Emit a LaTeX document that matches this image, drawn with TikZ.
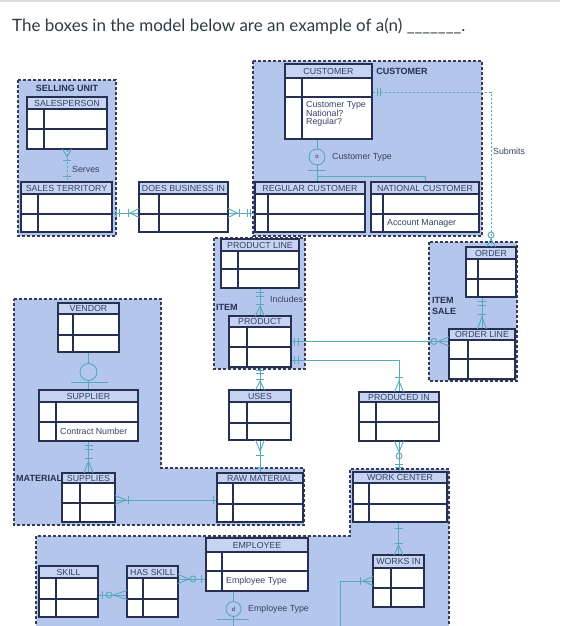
\documentclass[tikz,border=0pt]{standalone}
\usepackage{fontspec}
\setmainfont{Liberation Sans}
\newfontfamily\titlefont{Lato}
\usetikzlibrary{fit}
\definecolor{regblue}{RGB}{180,198,236}
\definecolor{hdrblue}{RGB}{198,212,242}
\definecolor{entline}{RGB}{38,48,82}
\definecolor{hdrtxt}{RGB}{55,65,100}
\definecolor{conncol}{RGB}{88,168,190}
\definecolor{regline}{RGB}{55,60,80}
\definecolor{titlecol}{RGB}{45,59,69}
\tikzset{
 region/.style={draw=regline, fill=regblue, line width=1.2pt, dash pattern=on 3pt off 2pt},
 entbox/.style={draw=entline, fill=white, line width=1.1pt, inner sep=0pt},
 hdrfill/.style={draw=entline, fill=hdrblue, line width=1.1pt},
 entln/.style={draw=entline, line width=1.1pt},
 hdrtext/.style={font=\fontsize{8.8}{9}\selectfont, text=hdrtxt, inner sep=0pt},
 rowtext/.style={font=\fontsize{8.8}{9}\selectfont, text=hdrtxt, inner sep=0pt, anchor=west},
 lbl/.style={font=\fontsize{9}{9}\selectfont\bfseries, text=entline, inner sep=0pt},
 cn/.style={draw=conncol, line width=0.9pt},
 cnd/.style={cn, dash pattern=on 2.5pt off 1.5pt},
 subc/.style={circle, draw=conncol, line width=0.9pt, inner sep=0pt, font=\fontsize{6}{6}\selectfont, text=entline},
}
% entity: name, x1, y1, yheader, yrow, y2, x2, xcol, header
\newcommand{\ent}[9]{%
 \coordinate (#1-nw) at (#2,#3);
 \coordinate (#1-se) at (#7,#6);
 \node[entbox, fit=(#1-nw)(#1-se)] (#1) {};
 \path[hdrfill] (#2,#3) rectangle (#7,#4);
 \draw[entln] (#2,#5) -- (#7,#5) (#8,#4) -- (#8,#6);
 \node[hdrtext] (#1-h) at ({(#2+#7)/2},{(#3+#4)/2+0.3}) {#9};
}
\newcommand{\cfv}[3]{\draw[cn] (#1-4.5,#2) -- (#1,#3) -- (#1+4.5,#2);}
\newcommand{\cfh}[3]{\draw[cn] (#2,#1-4.5) -- (#3,#1) -- (#2,#1+4.5);}
\newcommand{\bv}[2]{\draw[cn] (#1-4,#2) -- (#1+4,#2);}
\newcommand{\bh}[2]{\draw[cn] (#1,#2-4) -- (#1,#2+4);}
\newcommand{\oc}[2]{\draw[cn] (#1,#2) circle (3pt);}
\begin{document}
\begin{tikzpicture}[x=1pt,y=-1pt]
\useasboundingbox (0,0) rectangle (560,626);
\fill[white] (0,0) rectangle (560,626);
\fill[black!14] (0,0) rectangle (560,2.5);
\node[anchor=base west, inner sep=0pt, font=\titlefont\fontsize{17}{20}\selectfont, text=titlecol] (title) at (12,32) {The boxes in the model below are an example of a(n) \_\_\_\_\_\_\_.};

% regions
\path[region] (18,80) rectangle (116,236);
\path[region] (253,61) rectangle (482,236);
\path[region] (214,238) rectangle (305,369);
\path[region] (429,242) rectangle (517,381);
\path[region] (14,299) -- (161,299) -- (161,468) -- (304,468) -- (304,525) -- (14,525) -- cycle;
\path[region] (36,634) -- (36,536) -- (350,536) -- (350,469) -- (449,469) -- (449,634) -- cycle;

% entities
\ent{sp}{27}{97}{109}{129}{149}{107}{44}{SALESPERSON}
\ent{st}{21}{182}{194}{214}{232}{112}{38}{SALES TERRITORY}
\ent{dbi}{139}{182}{194}{214}{232}{228}{159}{DOES BUSINESS IN}
\ent{rc}{255}{182}{194}{214}{232}{365}{268}{REGULAR CUSTOMER}
\ent{nc}{371}{182}{194}{214}{232}{479}{383}{NATIONAL CUSTOMER}
\ent{cu}{285}{64}{78}{97}{139}{372}{302}{CUSTOMER}
\ent{ord}{466}{247}{259}{279}{297}{516}{478}{ORDER}
\ent{ol}{449}{329}{340}{359}{379}{515}{468}{ORDER LINE}
\ent{pl}{221}{239}{251}{269}{288}{299}{238}{PRODUCT LINE}
\ent{pr}{229}{316}{327}{347}{367}{291}{247}{PRODUCT}
\ent{us}{229}{390}{402}{423}{440}{291}{247}{USES}
\ent{rm}{217}{473}{483}{504}{522}{303}{233}{RAW MATERIAL}
\ent{pi}{359}{392}{402}{422}{441}{439}{376}{PRODUCED IN}
\ent{wc}{353}{472}{483}{504}{522}{447}{369}{WORK CENTER}
\ent{wi}{373}{555}{568}{588}{607}{424}{391}{WORKS IN}
\ent{ven}{58}{303}{314}{335}{352}{119}{73}{VENDOR}
\ent{sup}{39}{390}{402}{422}{441}{138}{56}{SUPPLIER}
\ent{spl}{62}{473}{483}{503}{522}{115}{80}{SUPPLIES}
\ent{sk}{39}{566}{578}{599}{617}{98}{56}{SKILL}
\ent{hs}{127}{566}{578}{599}{617}{178}{143}{HAS SKILL}
\ent{em}{206}{538}{552}{571}{591}{308}{222}{EMPLOYEE}

% row texts
\node[rowtext] (cut1) at (306,105) {Customer Type};
\node[rowtext] (cut2) at (306,113.5) {National?};
\node[rowtext] (cut3) at (306,122) {Regular?};
\node[rowtext] (acm) at (387,223) {Account Manager};
\node[rowtext] (cnum) at (60,431) {Contract Number};
\node[rowtext] (emt) at (226,581) {Employee Type};

% subtype circles
\node[subc, minimum size=16pt] (ccirc) at (317,157) {o};
\node[subc, minimum size=17pt] (vcirc) at (88.5,372) {};
\node[subc, minimum size=15pt] (ecirc) at (233.5,609) {d};
\coordinate (cj) at (317,176);
\coordinate (efree) at (233.5,630);
\coordinate (emfree) at (340,630);

% connectors
\draw[cnd] (sp.south) -- (sp.south |- st.north);
\cfv{67}{149}{157}\bv{67}{160}\bv{67}{176}
\draw[cn] ([yshift=-6pt]st.east) -- ([yshift=-6pt]st.east -| dbi.west);
\bh{116}{213}\bh{119}{213}\bh{128}{213}\cfh{213}{139}{130}
\draw[cn] ([yshift=-6pt]dbi.east) -- ([yshift=-6pt]dbi.east -| rc.west);
\cfh{213}{228}{237}\bh{239}{213}\bh{247}{213}\bh{250}{213}
\draw[cnd] ([yshift=9.5pt]cu.east) -| (ord.north);
\bh{377}{92}\bh{380}{92}\oc{491}{235}\cfv{491}{247}{239}
\draw[cn] ([xshift=-9pt]ord.south) -- ([xshift=-9pt]ord.south |- ol.north);
\bv{482}{301}\bv{482}{305}\bv{482}{314}\cfv{482}{329}{317}
\draw[cn] (pr.east) -- (pr.east -| ol.west);
\bh{294}{341.5}\bh{298}{341.5}\oc{434}{341.5}\cfh{341.5}{449}{438}
\draw[cn] ([yshift=-18.5pt]pr.east) -| (pi.north);
\bh{294}{360}\bh{298}{360}\bv{399}{377}\cfv{399}{392}{381}
\draw[cn] (pi.south) -- (pi.south |- wc.north);
\cfv{399}{441}{452}\oc{399}{456}\bv{399}{464}\bv{399}{467}
\draw[cn] (wi.north |- wc.south) -- (wi.north);
\bv{398.5}{528}\bv{398.5}{543}\cfv{398.5}{555}{545}
\draw[cn] (emfree) |- (wi.west);
\bh{360}{581}\cfh{581}{373}{363}
\draw[cn] (pl.south) -- (pl.south |- pr.north);
\bv{260}{292}\bv{260}{296}\bv{260}{304}\cfv{260}{316}{306}
\draw[cn] (pr.south) -- (pr.south |- us.north);
\bv{260}{370}\bv{260}{373}\bv{260}{379}\cfv{260}{390}{381}
\draw[cn] (us.south) -- (us.south |- rm.north);
\cfv{260}{440}{451}\bv{260}{455}\bv{260}{467}
\draw[cn] ([yshift=-2.5pt]spl.east) -- ([yshift=-2.5pt]spl.east -| rm.west);
\cfh{500}{115}{126}\bh{128}{500}\bh{213}{500}
\draw[cn] (sup.south) -- (sup.south |- spl.north);
\bv{88.5}{445}\bv{88.5}{449}\bv{88.5}{458}\cfv{88.5}{473}{461}
\draw[cn] (ven.south) -- (vcirc.north);
\draw[cn] (vcirc.south) -- (sup.north);
\draw[cn] (71,382) -- (108,382);
\draw[cn] ([yshift=-3.5pt]sk.east) -- ([yshift=-3.5pt]sk.east -| hs.west);
\bh{102}{595}\oc{109}{595}\cfh{595}{127}{113}
\draw[cn] ([yshift=12.5pt]hs.east) -- ([yshift=12.5pt]hs.east -| em.west);
\cfh{579}{178}{189}\oc{193}{579}\bh{201}{579}
\draw[cn] ([xshift=-11.5pt]cu.south) -- (ccirc.north);
\draw[cn] (ccirc.south) -- (ccirc.south |- rc.north);
\draw[cn] (cj) -| (nc.north);
\draw[cn] (308,170) -- (326,170);
\draw[cn] ([xshift=-23.5pt]em.south) -- (ecirc.north);
\draw[cn] (ecirc.south) -- (efree);
\draw[cn] (217,619) -- (249,619);

% labels
\node[lbl] (selu) at (67,88) {SELLING UNIT};
\node[rowtext] (serves) at (72,169) {Serves};
\node[lbl] (custl) at (402,71) {CUSTOMER};
\node[rowtext] (ctype) at (332,157) {Customer Type};
\node[rowtext] (subm) at (493,151) {Submits};
\node[rowtext] (incl) at (270,299) {Includes};
\node[lbl, anchor=west] (iteml) at (216,307) {ITEM};
\node[lbl, anchor=west] (items1) at (432,300) {ITEM};
\node[lbl, anchor=west] (items2) at (432,311) {SALE};
\node[lbl, anchor=west] (matl) at (16,478) {MATERIAL};
\node[rowtext] (etype) at (248,609) {Employee Type};
\end{tikzpicture}
\end{document}
